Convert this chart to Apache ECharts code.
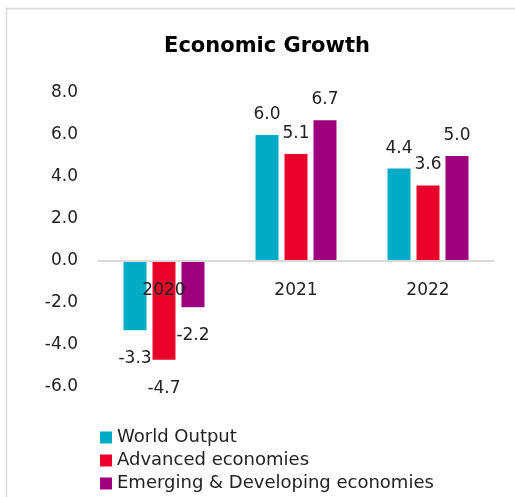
<!DOCTYPE html>
<html>
<head>
<meta charset="utf-8">
<script src="https://cdn.jsdelivr.net/npm/echarts@6/dist/echarts.min.js"></script>
<style>
  html, body { margin: 0; padding: 0; background: #fff; }
  #chart { width: 515px; height: 497px; }
</style>
</head>
<body>
<div id="chart"></div>
<script>
var years = ['2020', '2021', '2022'];
var worldOutput = [-3.3, 6.0, 4.4];
var advanced = [-4.7, 5.1, 3.6];
var emerging = [-2.2, 6.7, 5.0];
var seriesNames = ['World Output', 'Advanced economies', 'Emerging & Developing economies'];
var colors = ['#00abc6', '#e9002b', '#9e007d'];
var yMin = -6, yMax = 8, yStep = 2;

var font = 'DejaVu Sans';
var gridTop = 93, gridHeight = 294;

// negative bars get their label under the bar end
function withLabels(values) {
    return values.map(function (v) {
        return {
            value: v,
            label: v < 0
                ? { position: 'bottom', distance: 20 }
                : { position: 'top', distance: 12 }
        };
    });
}

var chart = echarts.init(document.getElementById('chart'));
var allValues = [worldOutput, advanced, emerging];

// move category axis (line + labels) up to the zero value
var zeroOffset = -gridHeight * (0 - yMin) / (yMax - yMin);

var option = {
    animation: false,
    color: colors,
    title: {
        text: 'Economic Growth',
        left: 262,
        textAlign: 'center',
        top: 31,
        textStyle: { fontFamily: font, fontSize: 21, fontWeight: 'bold', color: '#000' }
    },
    graphic: [{
        type: 'rect',
        shape: { x: 6.5, y: 8.5, width: 530, height: 520 },
        style: { fill: null, stroke: '#d9d9d9', lineWidth: 1.5 },
        silent: true
    }],
    grid: { left: 98, right: 21, top: gridTop, height: gridHeight },
    legend: {
        orient: 'vertical',
        left: 100,
        top: 427,
        padding: 0,
        itemWidth: 12,
        itemHeight: 12,
        itemGap: 2,
        icon: 'rect',
        textStyle: { fontFamily: font, fontSize: 18, color: '#222', lineHeight: 21 },
        data: seriesNames
    },
    xAxis: {
        type: 'category',
        data: years,
        offset: zeroOffset,
        z: 5,
        axisLine: { onZero: false, lineStyle: { color: '#d9d9d9', width: 2 } },
        axisTick: { show: false },
        axisLabel: { fontFamily: font, fontSize: 17, color: '#222', margin: 21 }
    },
    yAxis: {
        type: 'value',
        min: yMin,
        max: yMax,
        interval: yStep,
        axisLine: { show: false },
        axisTick: { show: false },
        splitLine: { show: false },
        axisLabel: {
            fontFamily: font, fontSize: 17, color: '#222', margin: 20,
            formatter: function (v) { return v.toFixed(1); }
        }
    },
    series: seriesNames.map(function (name, i) {
        return {
            name: name,
            type: 'bar',
            barWidth: 23,
            barGap: '26%',
            data: withLabels(allValues[i]),
            label: {
                show: true,
                fontFamily: font,
                fontSize: 17,
                color: '#222',
                formatter: function (p) { return p.value.toFixed(1); }
            }
        };
    })
};

chart.setOption(option);
</script>
</body>
</html>
